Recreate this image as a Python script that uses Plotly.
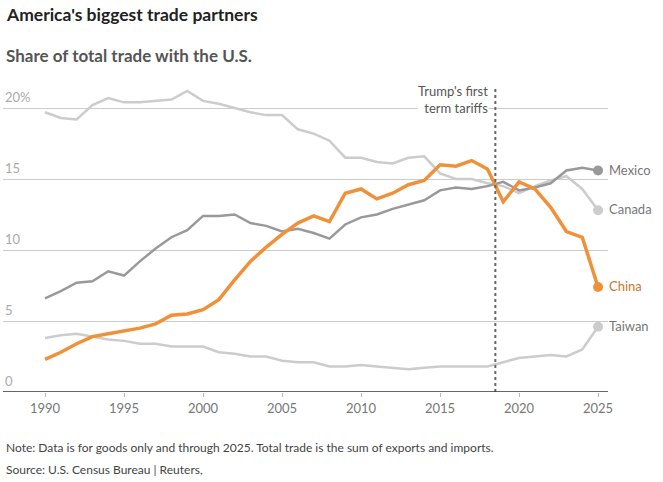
import plotly.graph_objects as go

# Share of total U.S. goods trade (%)
years = list(range(1990, 2026))

canada = [19.7, 19.3, 19.2, 20.2, 20.7, 20.4, 20.4, 20.5, 20.6, 21.2,
          20.5, 20.3, 20.0, 19.7, 19.5, 19.5, 18.5, 18.2, 17.7, 16.5,
          16.5, 16.2, 16.1, 16.5, 16.6, 15.4, 15.0, 15.0, 14.7, 14.5,
          14.0, 14.5, 14.9, 15.2, 14.3, 12.8]
mexico = [6.6, 7.1, 7.7, 7.8, 8.5, 8.2, 9.2, 10.1, 10.9, 11.4,
          12.4, 12.4, 12.5, 11.9, 11.7, 11.3, 11.5, 11.2, 10.8, 11.8,
          12.3, 12.5, 12.9, 13.2, 13.5, 14.2, 14.4, 14.3, 14.5, 14.8,
          14.2, 14.4, 14.7, 15.6, 15.8, 15.6]
china = [2.3, 2.8, 3.4, 3.9, 4.1, 4.3, 4.5, 4.8, 5.4, 5.5,
         5.8, 6.5, 7.9, 9.2, 10.2, 11.1, 11.9, 12.4, 12.0, 14.0,
         14.3, 13.6, 14.0, 14.6, 14.9, 16.0, 15.9, 16.3, 15.7, 13.4,
         14.8, 14.3, 13.0, 11.3, 10.9, 7.4]
taiwan = [3.8, 4.0, 4.1, 3.9, 3.7, 3.6, 3.4, 3.4, 3.2, 3.2,
          3.2, 2.8, 2.7, 2.5, 2.5, 2.2, 2.1, 2.1, 1.8, 1.8,
          1.9, 1.8, 1.7, 1.6, 1.7, 1.8, 1.8, 1.8, 1.8, 2.1,
          2.4, 2.5, 2.6, 2.5, 3.0, 4.6]

y_ticks = [0, 5, 10, 15, 20]
y_tick_text = ['0', '5', '10', '15', '20%']
x_ticks = list(range(1990, 2026, 5))
tariff_year = 2018.5

FONT = 'Lato'

series = [
    ('Taiwan', taiwan, '#cccccc', 2.5, '#777777'),
    ('Canada', canada, '#cccccc', 2.5, '#777777'),
    ('Mexico', mexico, '#999999', 2.5, '#777777'),
    ('China', china, '#f0913a', 3.5, '#c8782a'),
]

fig = go.Figure()

for name, vals, color, width, label_color in series:
    fig.add_trace(go.Scatter(
        x=years, y=vals, mode='lines',
        line=dict(color=color, width=width),
        hoverinfo='skip', showlegend=False
    ))
    # end dot
    fig.add_trace(go.Scatter(
        x=[years[-1]], y=[vals[-1]], mode='markers',
        marker=dict(color=color, size=10),
        hoverinfo='skip', showlegend=False, cliponaxis=False
    ))
    fig.add_annotation(
        x=years[-1], y=vals[-1], text=name, showarrow=False,
        xanchor='left', xshift=9, yshift=1,
        font=dict(family=FONT, size=13, color=label_color)
    )

# tariff marker
fig.add_shape(type='line', x0=tariff_year, x1=tariff_year, y0=0, y1=1,
              yref='paper', line=dict(color='#666666', width=2, dash='dot'),
              layer='above')
fig.add_annotation(
    x=tariff_year, y=1, yref='paper', text="Trump's first<br>term tariffs",
    showarrow=False, xanchor='right', yanchor='top', align='right',
    xshift=-6, yshift=6, bgcolor='white', borderpad=0,
    font=dict(family=FONT, size=13, color='#555555')
)

# y tick labels sit above the gridlines
for v, t in zip(y_ticks, y_tick_text):
    fig.add_annotation(
        x=0, xref='paper', y=v, text=t, showarrow=False,
        xanchor='left', yanchor='bottom', yshift=1,
        font=dict(family=FONT, size=13, color='#aaaaaa')
    )

# titles and footnotes, placed in pixels from the plot bottom (y=392)
fig.add_annotation(text="America's biggest trade partners", x=0, xref='paper', y=0,
                   yref='paper', xanchor='left', yanchor='middle', showarrow=False,
                   xshift=1, yshift=392 - 14,
                   font=dict(family=FONT, size=17.5, color='#222222', weight='bold'))
fig.add_annotation(text='Share of total trade with the U.S.', x=0, xref='paper', y=0,
                   yref='paper', xanchor='left', yanchor='middle', showarrow=False,
                   xshift=1, yshift=392 - 55,
                   font=dict(family=FONT, size=17, color='#555555', weight='bold'))
fig.add_annotation(text='Note: Data is for goods only and through 2025. Total trade is the sum of exports and imports.',
                   x=0, xref='paper', y=0, yref='paper', xanchor='left', yanchor='middle',
                   showarrow=False, xshift=1, yshift=392 - 447,
                   font=dict(family=FONT, size=12, color='#444444'))
fig.add_annotation(text='Source: U.S. Census Bureau | Reuters,',
                   x=0, xref='paper', y=0, yref='paper', xanchor='left', yanchor='middle',
                   showarrow=False, xshift=1, yshift=392 - 469,
                   font=dict(family=FONT, size=12, color='#444444'))

# baseline
fig.add_shape(type='line', x0=0, x1=1, xref='paper', y0=0, y1=0,
              line=dict(color='#333333', width=1.5), layer='above')

fig.update_layout(
    width=663, height=482,
    plot_bgcolor='white', paper_bgcolor='white',
    margin=dict(l=3, r=55, t=88, b=90),
    xaxis=dict(range=[1987.34, 2025.63], tickvals=x_ticks,
               showgrid=False, zeroline=False,
               showline=False, ticks='outside', ticklen=4,
               tickcolor='#bbbbbb', tickwidth=1,
               tickfont=dict(family=FONT, size=13, color='#777777')),
    yaxis=dict(range=[0, 21.41], tickvals=y_ticks, showticklabels=False,
               gridcolor='#cccccc', gridwidth=1, zeroline=False),
)

fig.write_html("out.html", config={'displayModeBar': False},
               post_script="document.body.style.margin='0';")
